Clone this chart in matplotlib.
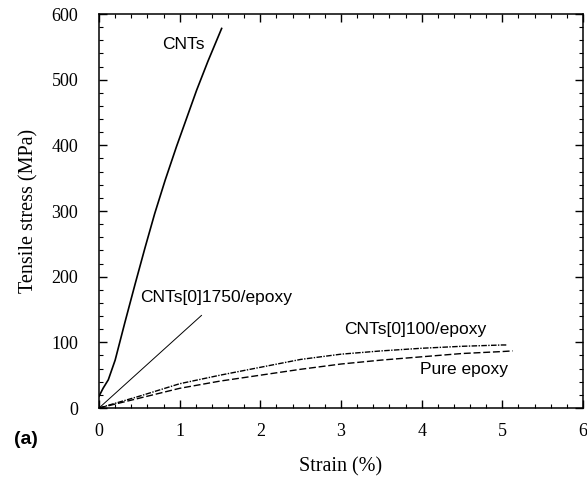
import matplotlib
matplotlib.use("Agg")
import matplotlib.pyplot as plt
from matplotlib.ticker import MultipleLocator

# Data
cnt_strain = [0.0, 0.05, 0.115, 0.2, 0.32, 0.45, 0.57, 0.69, 0.82, 0.96, 1.21, 1.35, 1.52]
cnt_stress = [18, 30, 43, 73, 130, 190, 244, 296, 347, 398, 484, 528, 578]

c1750_strain = [0.0, 1.27]
c1750_stress = [0, 141]

c100_strain = [0.0, 0.5, 1.0, 1.5, 2.0, 2.5, 3.0, 3.5, 4.0, 4.5, 5.0, 5.05]
c100_stress = [0, 18, 37, 50, 62, 74, 82, 87, 91, 94, 96, 96]

epoxy_strain = [0.0, 0.5, 1.0, 1.5, 2.0, 2.5, 3.0, 3.5, 4.0, 4.5, 5.0, 5.13]
epoxy_stress = [0, 15, 30, 41, 50, 59, 67, 73, 78, 83, 86, 87]

labels = ["CNTs", "CNTs[0]1750/epoxy", "CNTs[0]100/epoxy", "Pure epoxy"]
label_pos_x = [1.05, 1.45, 3.92, 4.52]
label_pos_y = [554, 168, 119, 59]

fig = plt.figure(figsize=(5.87, 4.78), dpi=100)
ax = fig.add_axes([0.1687, 0.1464, 0.9932 - 0.1687, 0.9707 - 0.1464])

ax.plot(cnt_strain, cnt_stress, color="black", lw=1.2, ls="-")
ax.plot(c1750_strain, c1750_stress, color="black", lw=0.7, ls="-")
ax.plot(c100_strain, c100_stress, color="black", lw=1.0, ls=(0, (4, 1, 1, 1)))
ax.plot(epoxy_strain, epoxy_stress, color="black", lw=1.0, ls=(0, (5, 2)))

for t, x, y in zip(labels, label_pos_x, label_pos_y):
    ax.text(x, y, t, ha="center", va="center", fontsize=12.5,
            family="Liberation Sans", color="black")

ax.set_xlim(0, 6)
ax.set_ylim(0, 600)
ax.xaxis.set_major_locator(MultipleLocator(1))
ax.xaxis.set_minor_locator(MultipleLocator(0.2))
ax.yaxis.set_major_locator(MultipleLocator(100))
ax.yaxis.set_minor_locator(MultipleLocator(20))
ax.tick_params(which="both", direction="in", top=True, right=True, color="black")
ax.tick_params(which="major", length=6, width=1)
ax.tick_params(which="minor", length=3, width=0.8)
ax.tick_params(axis="x", which="major", labelsize=13, pad=10.5)
ax.tick_params(axis="y", which="major", labelsize=13, pad=15)
for lbl in ax.get_xticklabels() + ax.get_yticklabels():
    lbl.set_family("Liberation Serif")
for sp in ax.spines.values():
    sp.set_linewidth(1.1)

ax.set_xlabel("Strain (%)", fontsize=14.5, family="Liberation Serif", labelpad=13)
ax.set_ylabel("Tensile stress (MPa)", fontsize=14.5, family="Liberation Serif", labelpad=9)

fig.text(26 / 587, 1 - 440 / 478, "(a)", fontsize=14, fontweight="bold",
         family="Liberation Sans", ha="center", va="center")

fig.savefig("out.png", dpi=100)
